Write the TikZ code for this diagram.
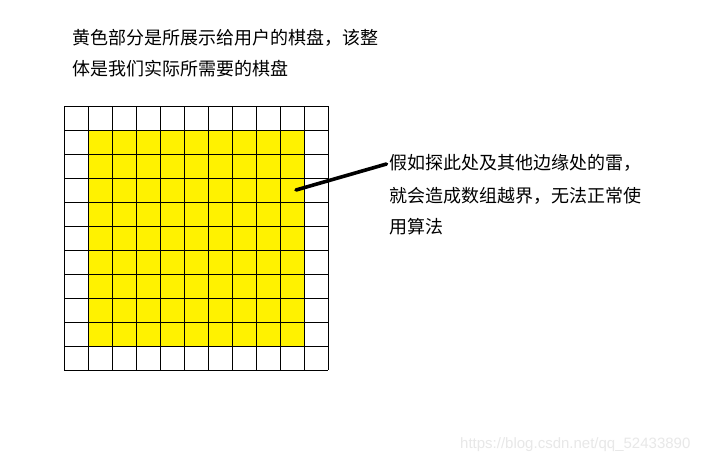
\documentclass[tikz,border=0pt]{standalone}
\usepackage{fontspec}
\newfontfamily\cjk{Noto Sans CJK SC}
\newfontfamily\wmfont{Liberation Sans}
\begin{document}
\begin{tikzpicture}[x=1pt,y=-1pt,
  cjktext/.style={anchor=base west,inner sep=0pt,font=\cjk\fontsize{18}{18}\selectfont,text=black},
  gridline/.style={draw=black,line width=1pt},
  pointer/.style={draw=black,line width=3.6pt,line cap=round},
  watermark/.style={anchor=base west,inner sep=0pt,font=\wmfont\fontsize{15}{15}\selectfont,text=black!9}]
\useasboundingbox[fill=white] (0,0) rectangle (713,461);
% yellow visible board
\fill[yellow] (88,130) rectangle (304,346);
% grid
\foreach \i in {0,...,11}{
  \draw[gridline] (64+24*\i,106) -- (64+24*\i,370);
  \draw[gridline] (64,106+24*\i) -- (328,106+24*\i);
}
% top text
\node[cjktext] (t1) at (72,44.5) {黄色部分是所展示给用户的棋盘，该整};
\node[cjktext] (t2) at (72,75) {体是我们实际所需要的棋盘};
% right text
\node[cjktext] (r1) at (389,169.5) {假如探此处及其他边缘处的雷，};
\node[cjktext] (r2) at (389,202.5) {就会造成数组越界，无法正常使};
\node[cjktext] (r3) at (389,233) {用算法};
% pointer
\coordinate (p) at (296,190);
\coordinate (q) at (386.5,164);
\draw[pointer] (p) -- (q);
% watermark
\node[watermark] (wm) at (460,448) {https://blog.csdn.net/qq\_52433890};
\end{tikzpicture}
\end{document}
